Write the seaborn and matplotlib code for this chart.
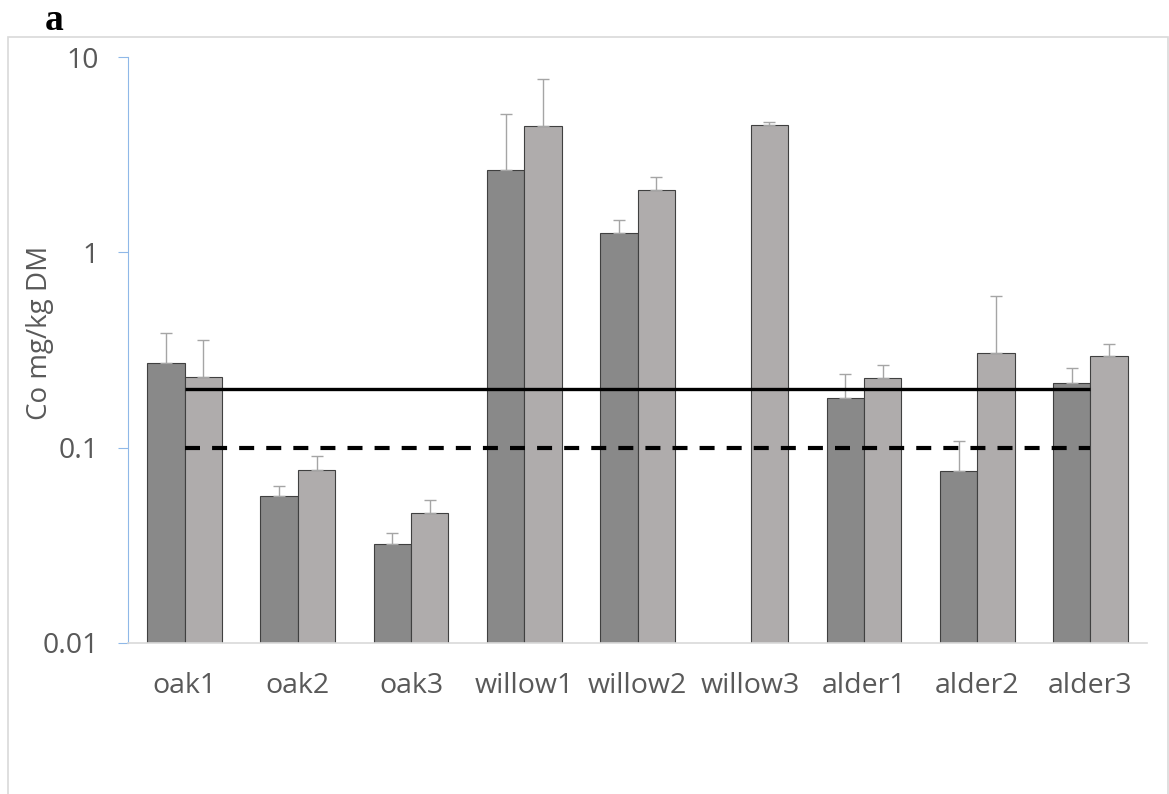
import numpy as np
import pandas as pd
import matplotlib
matplotlib.use("Agg")
import matplotlib.pyplot as plt
from matplotlib.patches import Rectangle
from matplotlib.ticker import FixedLocator, FixedFormatter, NullLocator
import seaborn as sns

# values (log axis)
sites = ['oak1', 'oak2', 'oak3', 'willow1', 'willow2', 'willow3', 'alder1', 'alder2', 'alder3']
series = ['S1', 'S2']
s1_mean = [0.272, 0.0567, 0.0323, 2.63, 1.25, np.nan, 0.179, 0.0763, 0.215]
s1_err = [0.114, 0.0071, 0.0044, 2.45, 0.22, np.nan, 0.059, 0.032, 0.040]
s2_mean = [0.229, 0.077, 0.0462, 4.43, 2.09, 4.48, 0.227, 0.304, 0.294]
s2_err = [0.128, 0.0137, 0.0076, 3.29, 0.33, 0.16, 0.037, 0.297, 0.044]
limit_solid = 0.2
limit_dashed = 0.1
yticks = [0.01, 0.1, 1, 10]
ytick_labels = ['0.01', '0.1', '1', '10']

colors = ['#898989', '#b0acab']
text_col = '#595959'

sns.set_style('white')
plt.rcParams['font.family'] = ['Open Sans', 'DejaVu Sans']

df = pd.DataFrame({
    'site': sites * 2,
    'series': [series[0]] * len(sites) + [series[1]] * len(sites),
    'value': s1_mean + s2_mean,
})
errs = {series[0]: s1_err, series[1]: s2_err}

fig = plt.figure(figsize=(11.69, 7.94), dpi=100)
ax = fig.add_axes([0.1095, 0.1902, 0.8717, 0.738])

sns.barplot(data=df, x='site', y='value', hue='series', hue_order=series,
            order=sites, palette=colors, width=0.66, edgecolor='#404040',
            linewidth=0.8, errorbar=None, legend=False, ax=ax)

ax.set_yscale('log')

# upward-only error bars on top of each bar
for name, cont in zip(series, ax.containers):
    for bar in cont:
        h = bar.get_height()
        if not np.isfinite(h) or h <= 0:
            continue
        xc = bar.get_x() + bar.get_width() / 2
        i = int(round(xc))
        e = errs[name][i]
        ax.errorbar(xc, h, yerr=[[0], [e]], fmt='none', ecolor='#a5a5a5',
                    elinewidth=1.0, capsize=4, capthick=1.0, zorder=1)

# threshold lines
ax.hlines(limit_solid, 0, len(sites) - 1, colors='black', linewidth=2.4, zorder=4)
ax.hlines(limit_dashed, 0, len(sites) - 1, colors='black', linewidth=3.0,
          linestyles=(0, (3.6, 2.9)), zorder=4)

ax.set_xlim(-0.5, len(sites) - 0.5)
ax.set_ylim(0.01, 10)
ax.yaxis.set_major_locator(FixedLocator(yticks))
ax.yaxis.set_major_formatter(FixedFormatter(ytick_labels))
ax.yaxis.set_minor_locator(NullLocator())

ax.set_xlabel('')
ax.set_ylabel('Co mg/kg DM', fontsize=20, color=text_col)
ax.yaxis.set_label_coords(-0.073, 0.53)

ax.tick_params(axis='y', length=7.2, width=0.8, color='#8fb8e8', direction='out',
               labelsize=20.5, labelcolor=text_col, pad=14, left=True)
ax.tick_params(axis='x', length=0, labelsize=20.5, labelcolor=text_col, pad=21)

for side in ['top', 'right']:
    ax.spines[side].set_visible(False)
ax.spines['left'].set_color('#8fb8e8')
ax.spines['left'].set_linewidth(0.8)
ax.spines['bottom'].set_color('#d9d9d9')
ax.spines['bottom'].set_linewidth(1.2)

# outer chart frame and panel letter
fig.add_artist(Rectangle((8 / 1169, -0.01), 1160 / 1169, 1 - 37 / 794 + 0.01,
                         transform=fig.transFigure, fill=False,
                         edgecolor='#d9d9d9', linewidth=1.2))
fig.text(0.038, 0.974, 'a', fontsize=27, fontweight='bold',
         family='Liberation Serif', va='center', ha='left', color='black')

fig.savefig('out.png', dpi=100)
